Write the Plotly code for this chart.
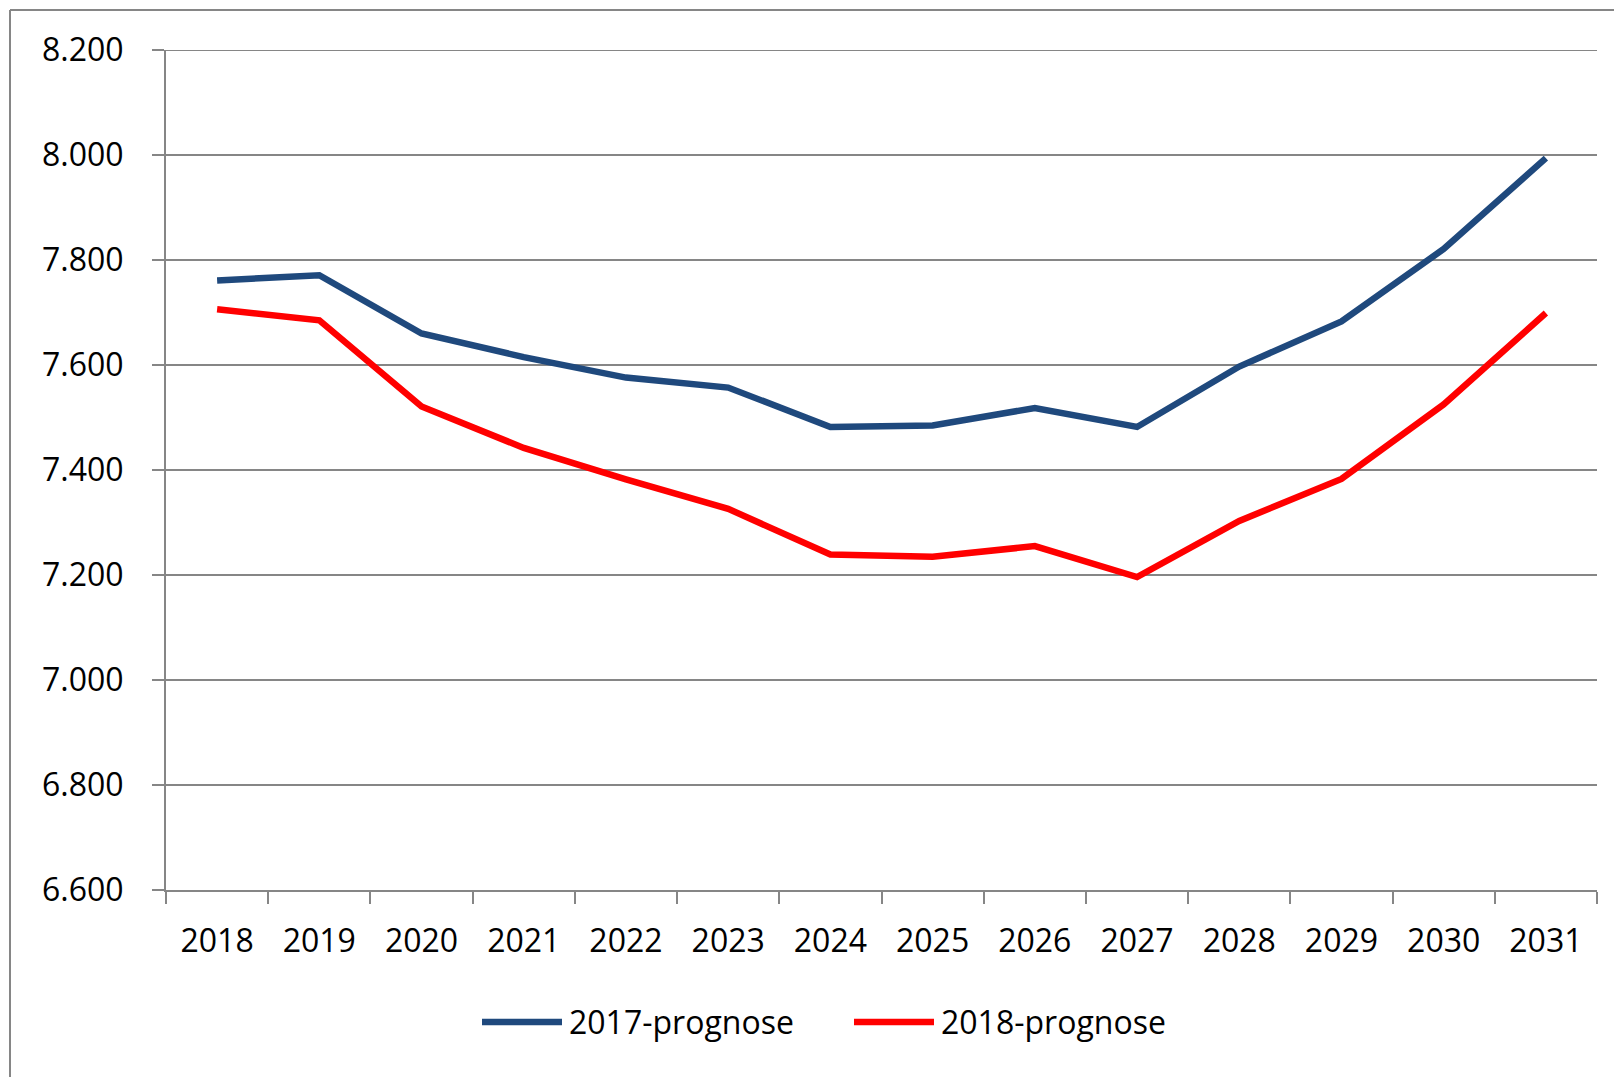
import plotly.graph_objects as go

years = ["2018", "2019", "2020", "2021", "2022", "2023", "2024",
         "2025", "2026", "2027", "2028", "2029", "2030", "2031"]
prognose_2017 = [7761, 7771, 7660, 7615, 7576, 7557, 7482,
                 7485, 7518, 7482, 7597, 7683, 7821, 7994]
prognose_2018 = [7706, 7685, 7521, 7442, 7382, 7326, 7239,
                 7235, 7255, 7196, 7303, 7383, 7525, 7699]
series_names = ["2017-prognose", "2018-prognose"]
series_colors = ["#1F497D", "#FF0000"]
y_ticks = [6600, 6800, 7000, 7200, 7400, 7600, 7800, 8000, 8200]

FONT = "Open Sans"
GRID = "#868686"

fig = go.Figure()
for name, vals, col in zip(series_names, [prognose_2017, prognose_2018], series_colors):
    fig.add_trace(go.Scatter(x=years, y=vals, mode="lines", name=name,
                             line=dict(color=col, width=6.5), showlegend=False))

OFF = 8  # page body margin
W, H = 1622 - OFF, 1077 - OFF
PL, PR, PT, PB = 166, 1597, 50, 890  # plot area in page pixels
L, R, T, B = PL - OFF, W - (PR - OFF), PT - OFF, H - (PB - OFF)
pw, ph = W - L - R, H - T - B

def px_x(x):  # page pixel -> paper
    return (x - PL) / pw

def px_y(y):
    return (PB - y) / ph

fig.update_layout(
    width=W, height=H,
    margin=dict(l=L, r=R, t=T, b=B, autoexpand=False),
    paper_bgcolor="white", plot_bgcolor="white",
    separators=",.",
    font=dict(family=FONT, size=32, color="#000000"),
    xaxis=dict(type="category", range=[-0.5, len(years) - 0.5], tickson="boundaries",
               ticks="outside", ticklen=12, automargin=False,
               tickwidth=2, tickcolor=GRID, showline=True, linecolor=GRID, linewidth=2,
               showgrid=False, ticklabelstandoff=22,
               tickfont=dict(family=FONT, size=32, color="#000000")),
    yaxis=dict(range=[y_ticks[0], y_ticks[-1]], tickvals=y_ticks, tickformat=",.0f",
               ticks="outside", automargin=False,
               ticklen=12, tickwidth=2, tickcolor=GRID, showline=True, linecolor=GRID,
               linewidth=2, showgrid=True, gridcolor=GRID, gridwidth=2, zeroline=False,
               ticklabelstandoff=22,
               tickfont=dict(family=FONT, size=32, color="#000000")),
)

# top gridline (coincides with the plot edge)
fig.add_shape(type="line", xref="paper", yref="y", x0=0, x1=1,
              y0=y_ticks[-1], y1=y_ticks[-1], line=dict(color=GRID, width=2))

# outer chart border (top and left edges visible)
fig.add_shape(type="line", xref="paper", yref="paper",
              x0=px_x(10), x1=px_x(1640), y0=px_y(10), y1=px_y(10),
              line=dict(color=GRID, width=2))
fig.add_shape(type="line", xref="paper", yref="paper",
              x0=px_x(10), x1=px_x(10), y0=px_y(10), y1=px_y(1100),
              line=dict(color=GRID, width=2))

# legend
leg_y = 1022
leg_items = [(482, 562, 567), (854, 934, 939)]
for (lx0, lx1, tx), name, col in zip(leg_items, series_names, series_colors):
    fig.add_shape(type="line", xref="paper", yref="paper",
                  x0=px_x(lx0), x1=px_x(lx1), y0=px_y(leg_y), y1=px_y(leg_y),
                  line=dict(color=col, width=6.5))
    fig.add_annotation(xref="paper", yref="paper", x=px_x(tx), y=px_y(leg_y),
                       text=name, showarrow=False, xanchor="left", yanchor="middle",
                       font=dict(family=FONT, size=32, color="#000000"))

fig.write_html("out.html")
